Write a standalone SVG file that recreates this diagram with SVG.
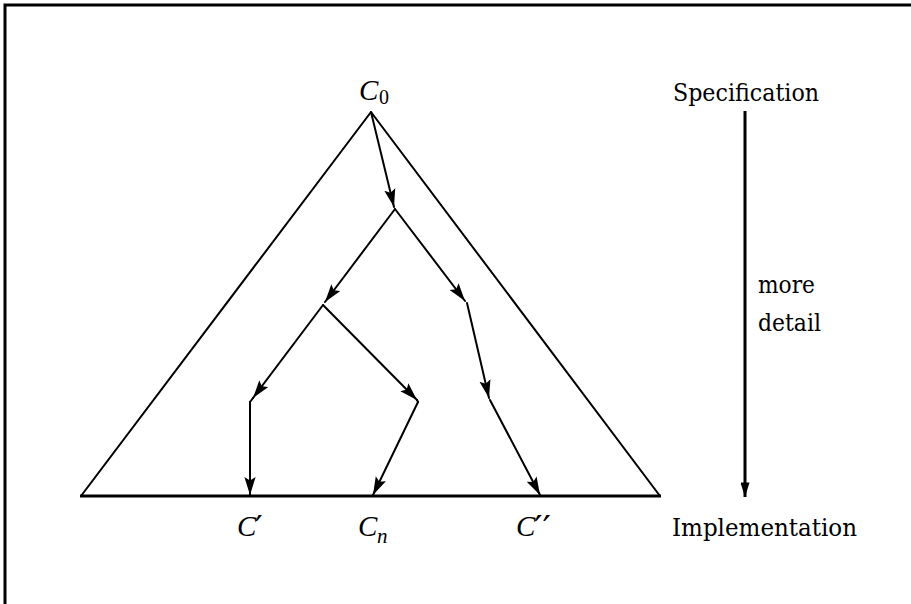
<svg xmlns="http://www.w3.org/2000/svg" width="911" height="604" viewBox="0 0 911 604">
<defs>
<style>
.ln{stroke:#000;stroke-width:2;fill:none;stroke-linecap:round;stroke-linejoin:round}
.thick{stroke:#000;stroke-width:3;fill:none}
text{font-family:'DejaVu Serif','Liberation Serif',serif;fill:#000}
.t{font-size:25px}
.m{font-family:'Liberation Serif','DejaVu Serif',serif;font-style:italic;font-size:29px}
.s{font-family:'Liberation Serif','DejaVu Serif',serif;font-size:20px}
.si{font-family:'Liberation Serif','DejaVu Serif',serif;font-style:italic;font-size:21px}
.p{font-family:'DejaVu Sans','Liberation Sans',sans-serif;font-size:34px}
</style>
<marker id="ah" viewBox="0 0 16 10" refX="16" refY="5" markerWidth="18" markerHeight="12" markerUnits="userSpaceOnUse" orient="auto">
<path d="M0,0 L16,5 L0,10 L3,5 Z" fill="#000"/>
</marker>
<marker id="ah2" viewBox="0 0 16 10" refX="16" refY="5" markerWidth="16" markerHeight="9" markerUnits="userSpaceOnUse" orient="auto">
<path d="M0,0 L16,5 L0,10 Z" fill="#000"/>
</marker>
</defs>
<rect width="911" height="604" fill="#fff"/>
<g id="frame">
<path class="thick" d="M5,604 L5,5 L911,5"/>
</g>
<g id="triangle">
<path class="ln" d="M81,496 L371,112 L660,496"/>
<line class="thick" x1="80" y1="496" x2="661" y2="496"/>
</g>
<g id="connectors">
<line class="ln" x1="371" y1="112" x2="394" y2="207" marker-end="url(#ah)"/>
<line class="ln" x1="395" y1="209" x2="325" y2="302" marker-end="url(#ah)"/>
<line class="ln" x1="395" y1="209" x2="465" y2="301" marker-end="url(#ah)"/>
<line class="ln" x1="467" y1="303" x2="489" y2="398" marker-end="url(#ah)"/>
<line class="ln" x1="490" y1="400" x2="540" y2="495" marker-end="url(#ah)"/>
<line class="ln" x1="323" y1="305" x2="253" y2="398" marker-end="url(#ah)"/>
<line class="ln" x1="250" y1="402" x2="250" y2="495" marker-end="url(#ah)"/>
<line class="ln" x1="323" y1="305" x2="417" y2="400" marker-end="url(#ah)"/>
<line class="ln" x1="418" y1="402" x2="373" y2="495" marker-end="url(#ah)"/>
<line class="ln" x1="250" y1="402" x2="253" y2="398"/>
<line class="ln" x1="418" y1="402" x2="417" y2="400"/>
</g>
<g id="detail-arrow">
<line class="thick" x1="745" y1="111" x2="745" y2="497" marker-end="url(#ah2)"/>
</g>
<g id="label-C0">
<text class="m" x="359" y="100">C</text><text class="s" x="379" y="104">0</text>
</g>
<g id="label-Cprime">
<text class="m" x="237" y="536">C</text><text class="p" x="255" y="540">′</text>
</g>
<g id="label-Cn">
<text class="m" x="358" y="536">C</text><text class="si" x="377" y="543">n</text>
</g>
<g id="label-Cdprime">
<text class="m" x="516" y="536">C</text><text class="p" x="534" y="540" textLength="17" lengthAdjust="spacingAndGlyphs">′′</text>
</g>
<g id="labels">
<text class="t" x="673" y="101" textLength="146" lengthAdjust="spacingAndGlyphs">Specification</text>
<text class="t" x="758" y="293" textLength="57" lengthAdjust="spacingAndGlyphs">more</text>
<text class="t" x="758" y="331" textLength="63" lengthAdjust="spacingAndGlyphs">detail</text>
<text class="t" x="672" y="536" textLength="185" lengthAdjust="spacingAndGlyphs">Implementation</text>
</g>
</svg>
